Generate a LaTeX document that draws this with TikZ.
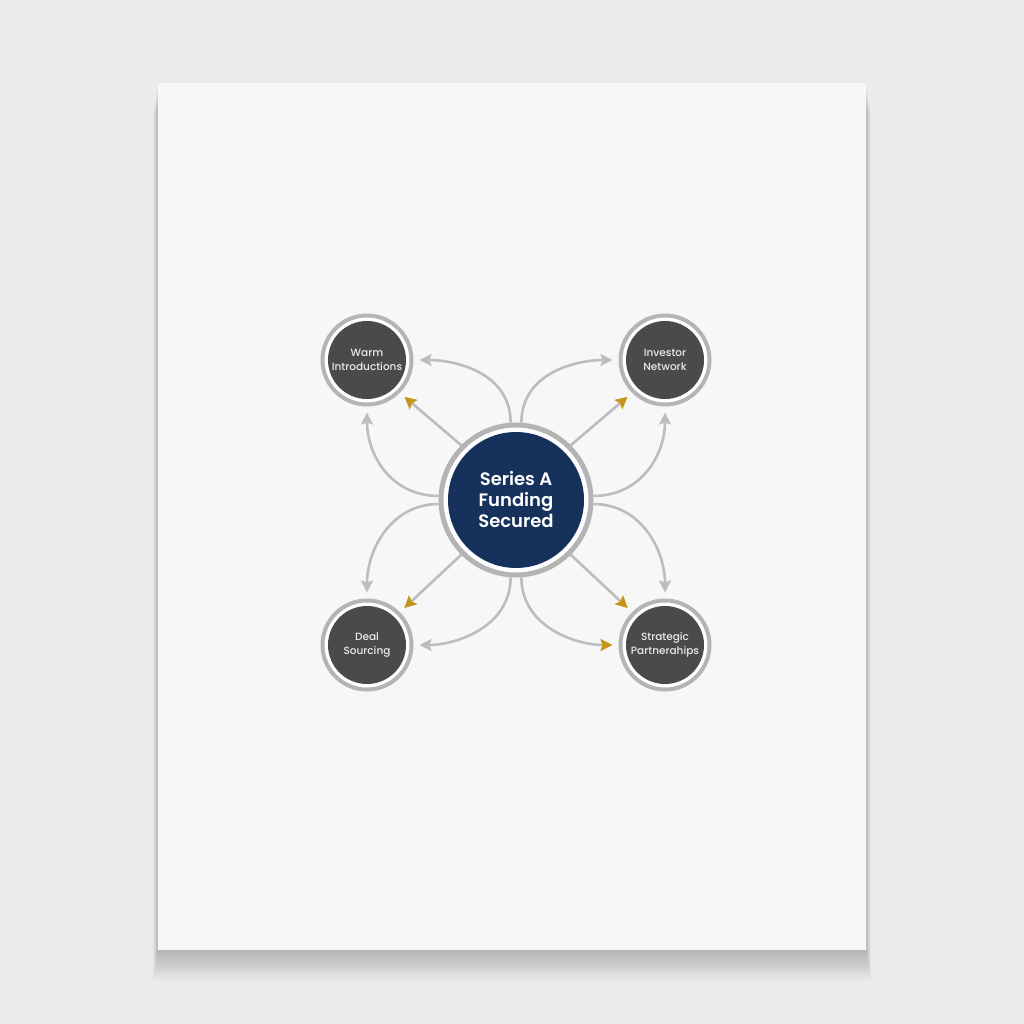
\documentclass[tikz,border=0pt]{standalone}
\usepackage{fontspec}
\setmainfont{Poppins}
\newfontfamily\medfont{Poppins Medium}
\newfontfamily\semifont{Poppins SemiBold}
\usetikzlibrary{arrows.meta}
\definecolor{bgc}{HTML}{EBEBEB}
\definecolor{paperc}{HTML}{F7F7F7}
\definecolor{navy}{HTML}{16325C}
\definecolor{darkc}{HTML}{4A4A4A}
\definecolor{ringc}{HTML}{B4B4B4}
\definecolor{linec}{HTML}{BDBDBD}
\definecolor{goldc}{HTML}{C4961A}
\tikzset{
  bigring/.style={circle, draw=ringc, line width=5pt, fill=white, minimum size=150pt, inner sep=0pt},
  bigcore/.style={circle, fill=navy, minimum size=136pt, inner sep=0pt, text=white, align=center,
    font=\fontsize{18}{21}\selectfont\semifont},
  smallring/.style={circle, draw=ringc, line width=4pt, fill=white, minimum size=89pt, inner sep=0pt},
  smallcore/.style={circle, fill=darkc, minimum size=78pt, inner sep=0pt, text=white!92!black, align=center,
    font=\fontsize{10.5}{14}\selectfont\medfont},
  conn/.style={draw=linec, line width=2.6pt, shorten >=6pt,
    -{Stealth[length=12pt,width=12pt,inset=2pt]}},
  goldconn/.style={draw=linec, line width=2.6pt, shorten >=6pt,
    -{Stealth[length=12pt,width=12pt,inset=2pt,color=goldc,fill=goldc]}},
}
\begin{document}
\begin{tikzpicture}[x=1pt,y=-1pt]
\useasboundingbox (0,0) rectangle (1024,1024);
\fill[bgc] (0,0) rectangle (1024,1024);
% soft shadow under the sheet
\foreach \k in {1,...,14}{
  \fill[black, opacity=0.016] (158-\k*0.35,83+\k*2) rectangle (866+\k*0.35,950+\k*2.2);
}
\fill[paperc] (158,83) rectangle (866,950);

% nodes
\node[bigring] (cring) at (516,500) {};
\node[bigcore] (c) at (cring) {Series A\\Funding\\Secured};

\node[smallring] (wiring) at (367,360) {};
\node[smallcore] (wi) at (wiring) {Warm\\Introductions};
\node[smallring] (inring) at (665,360) {};
\node[smallcore] (in) at (inring) {Investor\\Network};
\node[smallring] (dsring) at (367,645) {};
\node[smallcore] (ds) at (dsring) {Deal\\Sourcing};
\node[smallring] (spring) at (665,645) {};
\node[smallcore] (sp) at (spring) {Strategic\\Partnerahips};

% diagonal arrows
\draw[goldconn] (cring.135) -- (wiring.-45);
\draw[goldconn] (cring.45) -- (inring.-135);
\draw[goldconn] (cring.-135) -- (dsring.45);
\draw[goldconn] (cring.-45) -- (spring.135);

% vertical-start curves
\draw[conn] (cring.94) .. controls +(0,-50) and +(42,0) .. (wiring.east);
\draw[conn] (cring.86) .. controls +(0,-50) and +(-42,0) .. (inring.west);
\draw[conn] (cring.266) .. controls +(0,50) and +(42,0) .. (dsring.east);
\draw[goldconn] (cring.274) .. controls +(0,50) and +(-42,0) .. (spring.west);

% horizontal-start curves
\draw[conn] (cring.177) .. controls +(-48,0) and +(0,48) .. (wiring.south);
\draw[conn] (cring.183) .. controls +(-48,0) and +(0,-48) .. (dsring.north);
\draw[conn] (cring.3) .. controls +(48,0) and +(0,48) .. (inring.south);
\draw[conn] (cring.-3) .. controls +(48,0) and +(0,-48) .. (spring.north);
\end{tikzpicture}
\end{document}
